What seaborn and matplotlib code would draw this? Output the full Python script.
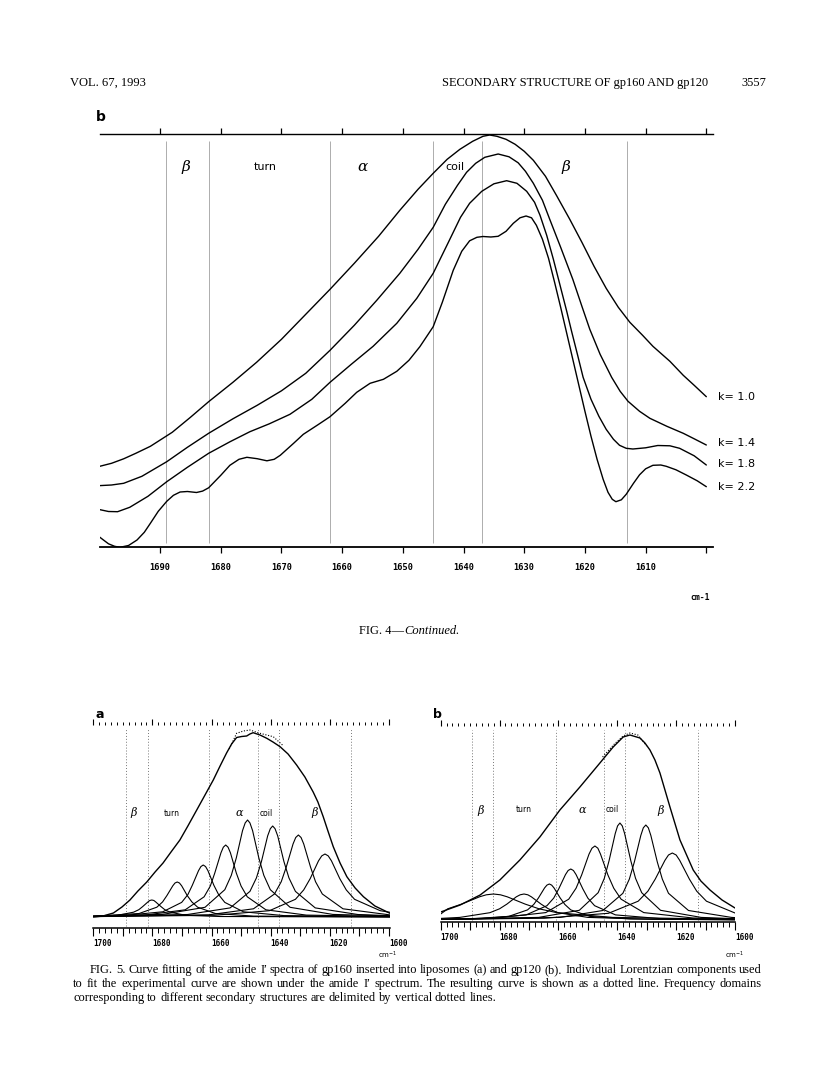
"""
Secondary structure of gp160 and gp120 (J. Virol. 1993, p. 3557)
Fig. 4b: deconvolved amide I' spectra, and Fig. 5: Lorentzian curve fitting.
"""

import numpy as np
import pandas as pd
import matplotlib
matplotlib.use("Agg")
import matplotlib.pyplot as plt
import seaborn as sns

# --- Fig. 4b: self-deconvolved spectra for several k values ---
k_labels = ["k= 1.0", "k= 1.4", "k= 1.8", "k= 2.2"]
k10_wn = [1700.2, 1698, 1696, 1694, 1691.6, 1688, 1685, 1682, 1678, 1674.1, 1670, 1666, 1662,
          1658, 1654, 1650.5, 1647.5, 1645, 1642.7, 1640.6, 1638.5, 1636.8, 1635.7, 1634.5,
          1633, 1631.5, 1630, 1628.5, 1626.5, 1624.7, 1622.5, 1620.5, 1618.5, 1616.5, 1614.5,
          1612.6, 1610.5, 1608.8, 1606, 1603.8, 1602, 1600]
k10_abs = [80.6, 84, 88.5, 94, 101, 115, 130, 145.6, 165, 185, 208, 233, 258,
           284, 311, 337, 358, 374, 388, 398, 406, 411, 412.3, 411,
           408, 403, 396, 387, 371, 352, 328, 305, 281, 259, 240,
           225, 212, 201, 186, 172, 162, 150.6]
k14_wn = [1700.2, 1698, 1696, 1693, 1688.9, 1685.5, 1682, 1678, 1674, 1670, 1666, 1662, 1658,
          1654.3, 1650.5, 1647.5, 1645, 1643, 1641, 1639.5, 1638, 1636.5, 1634.3, 1632.5, 1631,
          1629.8, 1628.5, 1627, 1625.8, 1624, 1622, 1620.5, 1619.2, 1617.5, 1615.6, 1614.2,
          1612.9, 1611, 1609.3, 1606.5, 1603.8, 1602, 1600]
k14_abs = [61.6, 62.3, 64, 71, 85.6, 100, 114, 128.5, 142, 156.5, 174, 197, 222,
           247, 274, 298, 320, 343, 362, 375, 384, 390, 393.3, 390.5, 384.5,
           376, 364, 347, 328, 300, 268, 241, 218, 193, 170, 156,
           146, 136, 129, 121, 114, 108.5, 102.3]
k18_wn = [1700.2, 1698.5, 1697, 1695, 1692, 1688.9, 1685.5, 1682, 1678.5, 1675.2, 1672, 1668.6,
          1665, 1662, 1658.5, 1654.9, 1651, 1647.7, 1645, 1642.5, 1640.5, 1639, 1637, 1635,
          1632.9, 1631.2, 1629.6, 1628.3, 1627.4, 1626.3, 1625.2, 1624.1, 1623, 1622.2, 1621.2,
          1620.3, 1619, 1617.7, 1616.5, 1615.3, 1614.3, 1613.2, 1612.1, 1610, 1608, 1606,
          1604.4, 1602, 1600]
k18_abs = [38, 35.8, 35.6, 40, 51, 65.6, 80, 94, 105.5, 115.6, 123.5, 133,
           148, 165, 183, 201, 224, 249, 274, 305, 330, 344, 356, 363.5,
           366.6, 364, 356, 345, 332, 312, 288, 262, 236, 216, 192,
           170, 148, 131, 118, 108, 102, 99, 98.3, 99.5, 101.8, 101.5,
           99, 91.5, 82.3]
k22_wn = [1700.2, 1698.5, 1697.5, 1696.6, 1695.2, 1693.8, 1692.6, 1691.6, 1690.3, 1688.9,
          1687.8, 1686.7, 1685.5, 1684, 1683, 1682, 1680, 1678.5, 1677, 1675.7, 1674, 1672.4,
          1671.2, 1670.2, 1668, 1666.4, 1664, 1662, 1659.5, 1657.6, 1655.4, 1653.2, 1651, 1649,
          1647.2, 1645, 1643.5, 1641.7, 1640.3, 1639, 1637.8, 1636.8, 1635.5, 1634.3, 1633,
          1631.8, 1630.7, 1629.7, 1628.8, 1628, 1627, 1626, 1625, 1624, 1623, 1622, 1621, 1620,
          1619, 1618, 1617, 1616.2, 1615.5, 1614.9, 1614, 1613.2, 1612, 1611, 1610, 1608.8,
          1607.5, 1606.6, 1605, 1603.3, 1601.5, 1600]
k22_abs = [11.3, 3.5, 1, 0, 1.8, 7.3, 15, 24, 36, 46,
           52, 55.3, 55.8, 54.8, 56.2, 59.5, 72, 82, 88, 90, 88.6, 86.5,
           88, 92, 104, 113, 122.5, 130.6, 144, 155, 164, 168, 176, 187,
           200.6, 220.6, 245, 277, 296, 306.5, 310, 310.8, 310.3, 311, 316,
           324, 329.5, 331.3, 329.5, 322, 308, 289, 265, 240, 214, 188, 162, 136,
           111, 88, 68, 55, 48, 45.6, 47.5, 53, 64, 72.5, 78.5, 82,
           82.3, 81, 77.5, 72.3, 66.5, 60.6]
k_label_abs = [150.3, 104.3, 83.6, 60.6]
fig4_ticks = [1690, 1680, 1670, 1660, 1650, 1640, 1630, 1620, 1610]
fig4_bounds = [1689, 1682, 1662, 1645, 1637, 1613]

region_names = ["β", "turn", "α", "coil", "β"]
fig4_region_wn = [1685.7, 1672.7, 1656.7, 1641.4, 1623.2]

# --- Fig. 5a: gp160 in liposomes ---
gp160_wn = [1700.0, 1696.7, 1693.2, 1690.3, 1687.6, 1684.9, 1681.9, 1679.1, 1676.4, 1673.7,
            1670.7, 1668.0, 1665.0, 1662.2, 1659.4, 1657.1, 1654.9, 1653.2, 1651.5, 1649.8,
            1648.1, 1647.0, 1645.9, 1643.6, 1641.3, 1639.2, 1636.8, 1634.1, 1631.2, 1628.4,
            1625.6, 1624.0, 1622.2, 1620.6, 1618.8, 1616.5, 1614.2, 1611.4, 1608.6, 1604.7,
            1599.6]
gp160_abs = [0, 1, 4, 10, 17, 26, 35, 45, 54, 65,
             77, 91, 107, 122, 137, 151, 164, 173, 179.5, 180.5,
             181, 183, 184.3, 182, 178.7, 175, 170.3, 163, 152, 140,
             125, 115, 100.3, 86, 70.3, 54, 40.3, 29, 20.3, 11,
             3.7]
gp160_fit_wn = [1654.0, 1651.5, 1649.2, 1647.0, 1643.6, 1639.1, 1636.0]
gp160_fit_abs = [168, 183.7, 186, 187, 183.7, 180.3, 172]
gp160_comp_wn = [
    [1700, 1691.8, 1686.4, 1684.6, 1683.3, 1681.5, 1680.9, 1680.2, 1679.5, 1678.9, 1677.1,
     1675.8, 1674.0, 1668.7, 1657.1, 1599.6],
    [1700, 1684.5, 1678.5, 1676.55, 1675.1, 1673.1, 1672.35, 1671.6, 1670.85, 1670.1, 1668.2,
     1666.65, 1664.7, 1658.7, 1645.8, 1599.6],
    [1700, 1690.1, 1676.5, 1670.1, 1668.0, 1666.5, 1664.4, 1663.6, 1662.8, 1662.0, 1661.2,
     1659.2, 1657.6, 1655.5, 1649.2, 1635.5, 1599.6],
    [1700, 1682.5, 1668.9, 1662.5, 1660.4, 1658.9, 1656.8, 1656.0, 1655.2, 1654.4, 1653.6,
     1651.6, 1650.0, 1647.9, 1641.6, 1627.9, 1599.6],
    [1700, 1676.6, 1662.2, 1655.5, 1653.3, 1651.6, 1649.5, 1648.6, 1647.8, 1647.0, 1646.1,
     1644.0, 1642.3, 1640.1, 1633.4, 1619.0, 1599.6],
    [1700, 1668.1, 1653.7, 1647.0, 1644.8, 1643.1, 1641.0, 1640.1, 1639.3, 1638.5, 1637.6,
     1635.5, 1633.8, 1631.6, 1624.9, 1610.5, 1599.6],
    [1700, 1660.9, 1645.8, 1638.7, 1636.4, 1634.7, 1632.4, 1631.5, 1630.6, 1629.7, 1628.8,
     1626.5, 1624.8, 1622.5, 1615.5, 1599.6],
    [1700, 1659.1, 1640.4, 1631.6, 1628.8, 1626.6, 1623.8, 1622.7, 1621.6, 1620.5, 1619.4,
     1616.6, 1614.4, 1611.6, 1602.9, 1599.6],
]
gp160_comp_abs = [
    [0.6, 1.7, 4.8, 7.3, 10.4, 15.1, 16.5, 17, 16.5, 15.1, 10.4, 7.3, 4.8, 1.7, 0.5, 0.0],
    [0.8, 3.5, 9.8, 15.1, 21.4, 31.2, 34.0, 35, 34.0, 31.2, 21.4, 15.1, 9.8, 3.5, 0.9, 0.1],
    [0.8, 1.4, 5.2, 14.6, 22.4, 31.7, 46.3, 50.4, 52, 50.4, 46.3, 31.7, 22.4, 14.6, 5.2, 1.4, 0.3],
    [0.7, 1.9, 7.2, 20.2, 31.0, 43.9, 64.2, 69.8, 72, 69.8, 64.2, 43.9, 31.0, 20.2, 7.2, 1.9, 0.5],
    [0.8, 2.6, 9.7, 27.3, 41.7, 59.2, 86.4, 94.1, 97, 94.1, 86.4, 59.2, 41.7, 27.3, 9.7, 2.6, 1.0],
    [0.6, 2.5, 9.1, 25.6, 39.1, 55.5, 81.1, 88.3, 91, 88.3, 81.1, 55.5, 39.1, 25.6, 9.1, 2.5, 1.3],
    [0.4, 2.2, 8.2, 23.0, 35.3, 50.0, 73.1, 79.5, 82, 79.5, 73.1, 50.0, 35.3, 23.0, 8.2, 2.1],
    [0.4, 1.7, 6.3, 17.7, 27.1, 38.4, 56.1, 61.1, 63, 61.1, 56.1, 38.4, 27.1, 17.7, 6.3, 4.7],
]
gp160_bounds = [1688.9, 1681.6, 1660.7, 1644.4, 1637.2, 1612.9]
gp160_region_wn = [1686.5, 1673.5, 1650.6, 1641.6, 1625.0]

# --- Fig. 5b: gp120 ---
gp120_wn = [1700.0, 1693.4, 1686.6, 1679.9, 1673.1, 1666.3, 1659.5, 1652.7, 1645.9, 1641.4,
            1638.0, 1635.7, 1632.3, 1630.6, 1628.9, 1627.2, 1625.5, 1622.1, 1618.7, 1616.3,
            1614.2, 1611.6, 1608.5, 1604.4, 1600.0]
gp120_abs = [8, 15, 25, 40, 60, 83, 110, 133, 157, 173,
             183, 185, 182, 177, 170, 160, 147, 113, 80, 64,
             50, 39, 30, 20, 12]
gp120_fit_wn = [1645.0, 1641.0, 1638.0, 1635.7, 1633.0, 1630.0]
gp120_fit_abs = [163, 176, 184, 187, 185, 174]
gp120_comp_wn = [
    [1700, 1697.6, 1692.9, 1686.8, 1684.5, 1682.1, 1679.7, 1677.4, 1671.3, 1666.6, 1660.5,
     1641.6, 1600],
    [1700, 1693.5, 1683.3, 1680.0, 1677.5, 1674.3, 1673.0, 1671.7, 1670.4, 1669.2, 1665.9,
     1663.4, 1660.1, 1650.0, 1628.2, 1600],
    [1700, 1690.7, 1676.9, 1670.5, 1668.4, 1666.8, 1664.7, 1663.9, 1663.1, 1662.3, 1661.5,
     1659.4, 1657.8, 1655.8, 1649.3, 1635.5, 1600],
    [1700, 1686.1, 1671.0, 1663.9, 1661.6, 1659.9, 1657.6, 1656.7, 1655.8, 1654.9, 1654.0,
     1651.7, 1650.0, 1647.7, 1640.6, 1625.5, 1600],
    [1700, 1680.9, 1664.3, 1656.5, 1654.0, 1652.1, 1649.6, 1648.6, 1647.6, 1646.6, 1645.7,
     1643.2, 1641.2, 1638.7, 1631.0, 1614.3, 1600],
    [1700, 1666.7, 1652.9, 1646.5, 1644.4, 1642.8, 1640.7, 1639.9, 1639.1, 1638.3, 1637.5,
     1635.4, 1633.8, 1631.7, 1625.3, 1611.5, 1600],
    [1700, 1659.4, 1644.9, 1638.1, 1635.9, 1634.2, 1632.0, 1631.15, 1630.3, 1629.45, 1628.6,
     1626.4, 1624.7, 1622.6, 1615.8, 1601.2, 1600],
    [1700, 1664.8, 1643.0, 1632.9, 1629.6, 1627.1, 1623.8, 1622.6, 1621.3, 1620.0, 1618.8,
     1615.5, 1613.0, 1609.7, 1600],
]
gp120_comp_abs = [
    [6, 11.2, 15.9, 23.2, 25.2, 26, 25.2, 23.2, 15.9, 11.2, 7.3, 2.6, 0.7],
    [1.6, 2.6, 7.3, 11.2, 15.9, 23.2, 25.2, 26, 25.2, 23.2, 15.9, 11.2, 7.3, 2.6, 0.7, 0.3],
    [0.6, 1.0, 3.6, 10.1, 15.5, 22.0, 32.1, 34.9, 36, 34.9, 32.1, 22.0, 15.5, 10.1, 3.6, 1.0, 0.2],
    [0.7, 1.4, 5.1, 14.3, 21.9, 31.1, 45.4, 49.5, 51, 49.5, 45.4, 31.1, 21.9, 14.3, 5.1, 1.4, 0.4],
    [0.8, 2.0, 7.4, 20.8, 31.8, 45.1, 65.9, 71.8, 74, 71.8, 65.9, 45.1, 31.8, 20.8, 7.4, 2.0, 1.0],
    [0.6, 2.6, 9.7, 27.3, 41.7, 59.2, 86.4, 94.1, 97, 94.1, 86.4, 59.2, 41.7, 27.3, 9.7, 2.6, 1.3],
    [0.5, 2.6, 9.5, 26.7, 40.9, 58.0, 84.6, 92.2, 95, 92.2, 84.6, 58.0, 40.9, 26.7, 9.5, 2.6, 2.4],
    [0.6, 1.8, 6.7, 18.8, 28.8, 40.9, 59.7, 65.0, 67, 65.0, 59.7, 40.9, 28.8, 18.8, 7.0],
]
gp120_bounds = [1689.5, 1682.3, 1660.8, 1644.5, 1637.4, 1612.7]
gp120_region_wn = [1686.3, 1671.9, 1651.9, 1641.6, 1625.2]

fig5_ticks = [1700, 1690, 1680, 1670, 1660, 1650, 1640, 1630, 1620, 1610, 1600]

caption5 = [
    "FIG. 5. Curve fitting of the amide I′ spectra of gp160 inserted into liposomes (a) and gp120 (b). "
    "Individual Lorentzian components used",
    "to fit the experimental curve are shown under the amide I′ spectrum. The resulting curve is shown "
    "as a dotted line. Frequency domains",
    "corresponding to different secondary structures are delimited by vertical dotted lines.",
]

W, H = 816, 1074
SERIF = ["Liberation Serif", "DejaVu Serif"]
MONO = "DejaVu Sans Mono"


def px(x, y):
    # page pixel -> figure fraction
    return x / W, 1 - y / H


def rect(x0, y0, x1, y1):
    return [x0 / W, 1 - y1 / H, (x1 - x0) / W, (y1 - y0) / H]


def curve(ax, wn, ab, **kw):
    sns.lineplot(x=wn, y=ab, ax=ax, sort=False, estimator=None, color="black", **kw)


def justified(fig, text, x0, x1, y, size, last=False):
    r = fig.canvas.get_renderer()
    words = text.split()
    objs = [fig.text(*px(0, y), w, fontsize=size, family=SERIF, va="baseline") for w in words]
    widths = [o.get_window_extent(r).width for o in objs]
    if last:
        gap = size * 0.25 * fig.dpi / 72
    else:
        gap = (x1 - x0 - sum(widths)) / (len(words) - 1)
    x = x0
    for o, w in zip(objs, widths):
        o.set_position(px(x, y))
        x += w + gap


def main():
    sns.set_style("ticks", rc={"axes.edgecolor": "black", "xtick.color": "black",
                               "text.color": "black", "axes.facecolor": "white"})
    plt.rcParams["font.family"] = ["DejaVu Sans"]

    fig = plt.figure(figsize=(W / 100, H / 100), dpi=100)

    # page header
    fig.text(*px(70, 86), "VOL. 67, 1993", fontsize=9, family=SERIF, va="baseline")
    fig.text(*px(708, 86), "SECONDARY STRUCTURE OF gp160 AND gp120", fontsize=8.9,
             family=SERIF, va="baseline", ha="right")
    fig.text(*px(766, 86), "3557", fontsize=8.9, family=SERIF, va="baseline", ha="right")

    # ---- Fig. 4b ----
    fig.text(*px(96, 117), "b", fontsize=10, fontweight="bold", va="center")
    ax = fig.add_axes(rect(100, 134, 713, 547.3))
    ax.vlines(fig4_bounds, 4, 406, colors="#a0a0a0", lw=0.6)
    for wn, ab in [(k10_wn, k10_abs), (k14_wn, k14_abs), (k18_wn, k18_abs), (k22_wn, k22_abs)]:
        curve(ax, wn, ab, lw=1.0)
    ax.set_xlim(1699.9, 1598.9)
    ax.set_ylim(0, 413.3)
    ax.set(xlabel="", ylabel="", yticks=[])
    for s in ["left", "right"]:
        ax.spines[s].set_visible(False)
    ax.spines["bottom"].set_linewidth(1.3)
    ax.spines["top"].set_linewidth(1.0)
    ax.set_xticks(fig4_ticks + [1600])
    ax.set_xticklabels([str(t) for t in fig4_ticks] + [""])
    ax.tick_params(axis="x", direction="out", length=4, width=0.9, top=True, bottom=True,
                   labeltop=False, pad=7)
    for lbl in ax.get_xticklabels():
        lbl.set_fontfamily(MONO)
        lbl.set_fontweight("bold")
        lbl.set_fontsize(6.2)
    for name, wn in zip(region_names, fig4_region_wn):
        greek = name in ("α", "β")
        ax.text(wn, 380.6, name, ha="center", va="center",
                fontsize=11 if greek else 8, style="italic" if greek else "normal",
                family="DejaVu Serif" if greek else "DejaVu Sans")
    for lab, y in zip(k_labels, k_label_abs):
        ax.text(1598.1, y, lab, ha="left", va="center", fontsize=8, clip_on=False)
    fig.text(*px(700, 598), "cm-1", family=MONO, fontweight="bold", fontsize=5.8,
             ha="center", va="center")
    fig.text(*px(404, 634), "FIG. 4—", fontsize=9, family=SERIF, ha="right", va="baseline")
    fig.text(*px(404, 634), "Continued.", fontsize=9, family=SERIF, style="italic",
             ha="left", va="baseline")

    # ---- Fig. 5 panels ----
    panels = [
        ("a", rect(93.3, 725, 390, 928), (1700, 1599.6), (-11, 192), gp160_wn, gp160_abs,
         gp160_fit_wn, gp160_fit_abs, gp160_comp_wn, gp160_comp_abs, gp160_bounds,
         gp160_region_wn, 104, 95, 388),
        ("b", rect(440.7, 726, 735, 922), (1700, 1600), (-2, 194), gp120_wn, gp120_abs,
         gp120_fit_wn, gp120_fit_abs, gp120_comp_wn, gp120_comp_abs, gp120_bounds,
         gp120_region_wn, 110, 433, 735),
    ]
    for (letter, r, xlim, ylim, mwn, mab, fwn, fab, cwn, cab, bounds, reg_wn, reg_y,
         letter_x, cm_x) in panels:
        fig.text(*px(letter_x, 715), letter, fontsize=9, fontweight="bold", va="center")
        ax = fig.add_axes(r)
        ax.vlines(bounds, ylim[0] + 2, ylim[1] - 4, colors="#777777", lw=0.7,
                  linestyles=(0, (1, 2)))
        comps = pd.concat([pd.DataFrame({"wn": w, "abs": a, "comp": i})
                           for i, (w, a) in enumerate(zip(cwn, cab))])
        sns.lineplot(data=comps, x="wn", y="abs", units="comp", estimator=None, sort=False,
                     color="black", lw=0.8, ax=ax)
        curve(ax, mwn, mab, lw=1.0)
        curve(ax, fwn, fab, lw=0.8, linestyle=(0, (1, 1.5)))
        ax.set_xlim(*xlim)
        ax.set_ylim(*ylim)
        ax.set(xlabel="", ylabel="", yticks=[])
        for s in ["left", "right", "top"]:
            ax.spines[s].set_visible(False)
        ax.spines["bottom"].set_linewidth(1.1)
        ax.set_xticks(fig5_ticks)
        ax.set_xticklabels([str(t) if t % 20 == 0 else "" for t in fig5_ticks])
        ax.set_xticks(np.arange(1600, 1701, 2), minor=True)
        ax.tick_params(axis="x", which="major", direction="out", length=6, width=0.8,
                       top=False, bottom=True, pad=2)
        ax.tick_params(axis="x", which="minor", direction="out", length=3.5, width=0.7,
                       top=False, bottom=True)
        for lbl in ax.get_xticklabels():
            lbl.set_ha("left")
            lbl.set_fontfamily(MONO)
            lbl.set_fontweight("bold")
            lbl.set_fontsize(5.5)
        # dotted row of ticks along the top
        sec = ax.secondary_xaxis("top")
        sec.spines["top"].set_visible(False)
        sec.set_xticks([1700, 1680, 1660, 1640, 1620, 1600])
        sec.set_xticks(np.arange(1600, 1701, 2), minor=True)
        sec.tick_params(axis="x", which="major", length=4, width=0.8, labeltop=False)
        sec.tick_params(axis="x", which="minor", length=2, width=0.7)
        for name, wn in zip(region_names, reg_wn):
            greek = name in ("α", "β")
            ax.text(wn, reg_y, name, ha="center", va="center",
                    fontsize=8 if greek else 5.5, style="italic" if greek else "normal",
                    family="DejaVu Serif" if greek else "DejaVu Sans")
        fig.text(*px(cm_x, 955), "cm$^{-1}$", fontsize=5, ha="center", va="center")

    # caption
    justified(fig, caption5[0], 90, 762, 973, 8.9)
    justified(fig, caption5[1], 73, 762, 987, 8.9)
    justified(fig, caption5[2], 73, 762, 1001, 8.9, last=True)

    fig.savefig("out.png", dpi=100, facecolor="white")


if __name__ == "__main__":
    main()
